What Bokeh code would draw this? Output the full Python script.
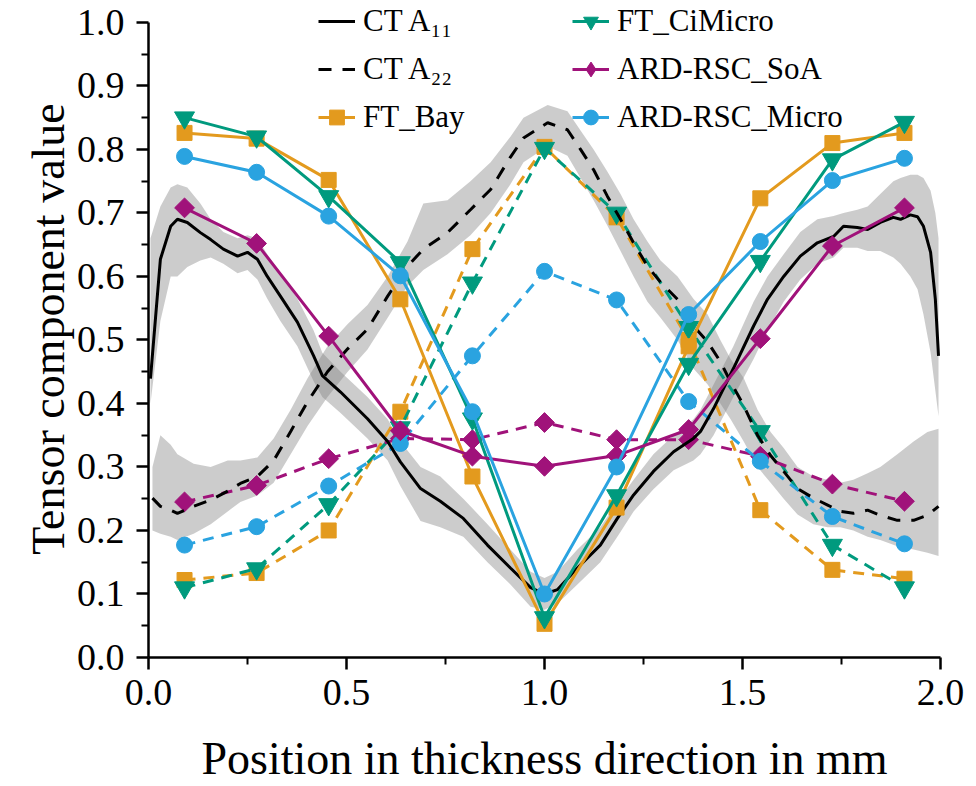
import numpy as np

from bokeh.embed import file_html
from bokeh.models import FixedTicker, Legend, LegendItem, NumeralTickFormatter, Range1d
from bokeh.plotting import figure
from bokeh.resources import INLINE

FONT = "Liberation Serif"
ORANGE = "#E39A1E"
TEAL = "#009A7E"
PURPLE = "#A0127A"
BLUE = "#2AA3E0"

# layer positions of the simulations (mm)
x_sim = [0.091, 0.273, 0.455, 0.636, 0.818, 1.0, 1.182, 1.364, 1.545, 1.727, 1.909]

ft_bay_a11 = [0.826, 0.817, 0.752, 0.564, 0.285, 0.053, 0.236, 0.490, 0.723, 0.810, 0.826]
ft_bay_a22 = [0.122, 0.133, 0.200, 0.387, 0.643, 0.804, 0.693, 0.500, 0.232, 0.138, 0.124]
ft_ci_a11 = [0.850, 0.820, 0.726, 0.622, 0.376, 0.063, 0.255, 0.462, 0.624, 0.784, 0.843]
ft_ci_a22 = [0.110, 0.140, 0.241, 0.362, 0.590, 0.802, 0.700, 0.520, 0.356, 0.177, 0.110]
soa_a11 = [0.708, 0.652, 0.506, 0.357, 0.317, 0.301, 0.318, 0.359, 0.502, 0.648, 0.708]
soa_a22 = [0.245, 0.271, 0.313, 0.345, 0.343, 0.370, 0.343, 0.343, 0.317, 0.273, 0.246]
micro_a11 = [0.789, 0.764, 0.695, 0.601, 0.387, 0.100, 0.300, 0.540, 0.655, 0.751, 0.786]
micro_a22 = [0.177, 0.206, 0.270, 0.337, 0.475, 0.608, 0.563, 0.403, 0.309, 0.222, 0.179]

# CT measurement, mean and scatter band
ct_a11_x = [0.005, 0.03, 0.056, 0.073, 0.098, 0.131, 0.157, 0.189, 0.225, 0.25,
            0.275, 0.30, 0.333, 0.376, 0.417, 0.439, 0.485, 0.553, 0.604, 0.636,
            0.687, 0.737, 0.795, 0.856, 0.914, 0.965, 1.0, 1.033, 1.083, 1.141,
            1.184, 1.225, 1.275, 1.326, 1.376, 1.394, 1.427, 1.477, 1.528, 1.563,
            1.604, 1.646, 1.689, 1.73, 1.755, 1.79, 1.816, 1.848, 1.881, 1.899,
            1.924, 1.942, 1.957, 1.975, 1.987, 1.995]
ct_a11 = [0.439, 0.627, 0.679, 0.690, 0.685, 0.669, 0.658, 0.643, 0.632, 0.638,
          0.627, 0.600, 0.569, 0.528, 0.475, 0.444, 0.418, 0.376, 0.340, 0.308,
          0.266, 0.246, 0.219, 0.177, 0.141, 0.110, 0.100, 0.107, 0.141, 0.177,
          0.219, 0.256, 0.293, 0.324, 0.345, 0.356, 0.392, 0.455, 0.522, 0.564,
          0.600, 0.632, 0.653, 0.663, 0.679, 0.677, 0.674, 0.685, 0.693, 0.690,
          0.697, 0.694, 0.679, 0.638, 0.564, 0.475]
ct_a11_lo = [0.40, 0.53, 0.60, 0.60, 0.615, 0.625, 0.63, 0.62, 0.605, 0.61,
             0.595, 0.565, 0.53, 0.49, 0.435, 0.41, 0.385, 0.345, 0.31, 0.27,
             0.215, 0.205, 0.19, 0.15, 0.115, 0.08, 0.075, 0.085, 0.115, 0.15,
             0.19, 0.23, 0.265, 0.295, 0.31, 0.32, 0.35, 0.41, 0.47, 0.515,
             0.56, 0.595, 0.62, 0.63, 0.645, 0.645, 0.64, 0.64, 0.63, 0.62,
             0.60, 0.58, 0.54, 0.48, 0.42, 0.38]
ct_a11_hi = [0.66, 0.71, 0.74, 0.745, 0.74, 0.715, 0.69, 0.67, 0.66, 0.665,
             0.66, 0.635, 0.605, 0.565, 0.515, 0.48, 0.45, 0.41, 0.375, 0.34,
             0.30, 0.285, 0.25, 0.21, 0.17, 0.135, 0.125, 0.135, 0.17, 0.205,
             0.245, 0.28, 0.32, 0.35, 0.375, 0.39, 0.43, 0.49, 0.56, 0.60,
             0.635, 0.67, 0.69, 0.695, 0.70, 0.705, 0.71, 0.73, 0.75, 0.755,
             0.76, 0.76, 0.755, 0.735, 0.70, 0.66]

ct_a22_x = [0.01, 0.03, 0.056, 0.073, 0.114, 0.157, 0.2, 0.232, 0.275, 0.316,
            0.359, 0.402, 0.452, 0.503, 0.553, 0.604, 0.654, 0.694, 0.755, 0.813,
            0.864, 0.914, 0.947, 1.008, 1.058, 1.091, 1.124, 1.159, 1.192, 1.225,
            1.26, 1.293, 1.336, 1.376, 1.412, 1.444, 1.47, 1.503, 1.538, 1.571,
            1.604, 1.639, 1.679, 1.715, 1.747, 1.78, 1.816, 1.848, 1.891, 1.932,
            1.967, 1.995]
ct_a22 = [0.251, 0.238, 0.232, 0.227, 0.238, 0.248, 0.262, 0.274, 0.285, 0.310,
          0.356, 0.403, 0.450, 0.486, 0.517, 0.569, 0.616, 0.643, 0.669, 0.705,
          0.737, 0.788, 0.818, 0.842, 0.831, 0.800, 0.768, 0.726, 0.690, 0.653,
          0.616, 0.591, 0.564, 0.522, 0.497, 0.466, 0.434, 0.397, 0.350, 0.318,
          0.293, 0.266, 0.251, 0.240, 0.230, 0.227, 0.232, 0.224, 0.216, 0.216,
          0.224, 0.238]
ct_a22_lo = [0.20, 0.195, 0.19, 0.185, 0.195, 0.21, 0.23, 0.245, 0.255, 0.275,
             0.32, 0.365, 0.41, 0.45, 0.485, 0.535, 0.585, 0.61, 0.635, 0.665,
             0.70, 0.745, 0.78, 0.805, 0.79, 0.755, 0.72, 0.68, 0.64, 0.60,
             0.56, 0.535, 0.50, 0.455, 0.43, 0.40, 0.375, 0.34, 0.30, 0.275,
             0.25, 0.225, 0.21, 0.205, 0.205, 0.20, 0.19, 0.185, 0.175, 0.17,
             0.165, 0.16]
ct_a22_hi = [0.30, 0.35, 0.335, 0.32, 0.305, 0.30, 0.31, 0.31, 0.315, 0.345,
             0.39, 0.44, 0.49, 0.525, 0.555, 0.60, 0.655, 0.715, 0.72, 0.75,
             0.78, 0.82, 0.85, 0.87, 0.86, 0.83, 0.80, 0.765, 0.73, 0.69,
             0.655, 0.625, 0.60, 0.565, 0.54, 0.50, 0.47, 0.44, 0.39, 0.355,
             0.33, 0.30, 0.285, 0.28, 0.275, 0.28, 0.29, 0.30, 0.32, 0.34,
             0.355, 0.36]

x_ticks = [0.0, 0.5, 1.0, 1.5, 2.0]
x_minor = [0.25, 0.75, 1.25, 1.75]
y_ticks = [0.0, 0.1, 0.2, 0.3, 0.4, 0.5, 0.6, 0.7, 0.8, 0.9, 1.0]
y_minor = [0.05, 0.15, 0.25, 0.35, 0.45, 0.55, 0.65, 0.75, 0.85, 0.95]

# the frame reaches the top edge so the legend above 1.0 is not clipped;
# the axis itself stops at 1.0 via bounds
p = figure(width=976, height=786, x_range=Range1d(0, 2), y_range=Range1d(0, 1.0345),
           output_backend="svg", toolbar_location=None,
           min_border_left=148, min_border_right=36, min_border_top=0, min_border_bottom=126)
p.outline_line_color = None
p.grid.visible = False

p.xaxis.axis_label = "Position in thickness direction in mm"
p.yaxis.axis_label = "Tensor component value"
p.xaxis.ticker = FixedTicker(ticks=x_ticks, minor_ticks=x_minor)
p.yaxis.ticker = FixedTicker(ticks=y_ticks, minor_ticks=y_minor)
p.yaxis.bounds = (0, 1)
for ax in (p.xaxis[0], p.yaxis[0]):
    ax.formatter = NumeralTickFormatter(format="0.0")
    ax.axis_line_width = 2.5
    ax.axis_line_color = "black"
    ax.major_tick_line_width = 2.5
    ax.minor_tick_line_width = 2
    ax.major_tick_in = 0
    ax.major_tick_out = 12
    ax.minor_tick_in = 0
    ax.minor_tick_out = 7
    ax.major_label_text_font = FONT
    ax.major_label_text_font_size = "38px"
    ax.major_label_text_color = "black"
    ax.axis_label_text_font = FONT
    ax.axis_label_text_font_size = "46px"
    ax.axis_label_text_font_style = "normal"
    ax.axis_label_text_color = "black"
p.xaxis.major_label_standoff = 10
p.xaxis.axis_label_standoff = 25
p.yaxis.major_label_standoff = 12
p.yaxis.axis_label_standoff = 0

# CT bands
p.varea(x=ct_a11_x, y1=ct_a11_lo, y2=ct_a11_hi, fill_color="gray", fill_alpha=0.4)
p.varea(x=ct_a22_x, y1=ct_a22_lo, y2=ct_a22_hi, fill_color="gray", fill_alpha=0.4)

# name, A11 values, A22 values, colour, marker, size, angle, legend marker
series = [
    ("FT_Bay", ft_bay_a11, ft_bay_a22, ORANGE, "square", 15, 0, "square"),
    ("FT_CiMicro", ft_ci_a11, ft_ci_a22, TEAL, "inverted_triangle", 20, 0, "inverted_triangle"),
    ("ARD-RSC_SoA", soa_a11, soa_a22, PURPLE, "square", 14, np.pi / 4, "diamond"),
    ("ARD-RSC_Micro", micro_a11, micro_a22, BLUE, "circle", 16, 0, "circle"),
]
# A22 (dashed) simulation results below the solid ones
for name, a11, a22, color, marker, size, angle, _ in series:
    p.line(x_sim, a22, color=color, line_width=3, line_dash="11 8")
    p.scatter(x_sim, a22, marker=marker, size=size, angle=angle, color=color)

ct1 = p.line(ct_a11_x, ct_a11, color="black", line_width=3)
ct2 = p.line(ct_a22_x, ct_a22, color="black", line_width=3, line_dash="13 11")

items = {}
for name, a11, a22, color, marker, size, angle, leg_marker in series:
    l = p.line(x_sim, a11, color=color, line_width=3)
    m = p.scatter(x_sim, a11, marker=marker, size=size, angle=angle, color=color)
    if leg_marker != marker:
        # off-screen point, only used for the legend swatch
        m = p.scatter(x=[-1.0], y=[-1.0], marker=leg_marker, size=size, color=color)
    items[name] = [l, m]


def make_legend(entries, loc):
    leg = Legend(items=[LegendItem(label=lab, renderers=rs) for lab, rs in entries],
                 location=loc, orientation="vertical",
                 label_text_font=FONT, label_text_font_size="31px",
                 label_text_color="black",
                 glyph_width=37, glyph_height=40, label_height=40,
                 label_standoff=8, spacing=8, padding=0, margin=0,
                 border_line_color=None, background_fill_alpha=0)
    p.add_layout(leg)


make_legend([("CT A\u2081\u2081", [ct1]), ("CT A\u2082\u2082", [ct2]),
             ("FT_Bay", items["FT_Bay"])], (170, 520))
make_legend([("FT_CiMicro", items["FT_CiMicro"]), ("ARD-RSC_SoA", items["ARD-RSC_SoA"]),
             ("ARD-RSC_Micro", items["ARD-RSC_Micro"])], (424, 520))

open("out.html", "w").write(file_html(p, INLINE))
